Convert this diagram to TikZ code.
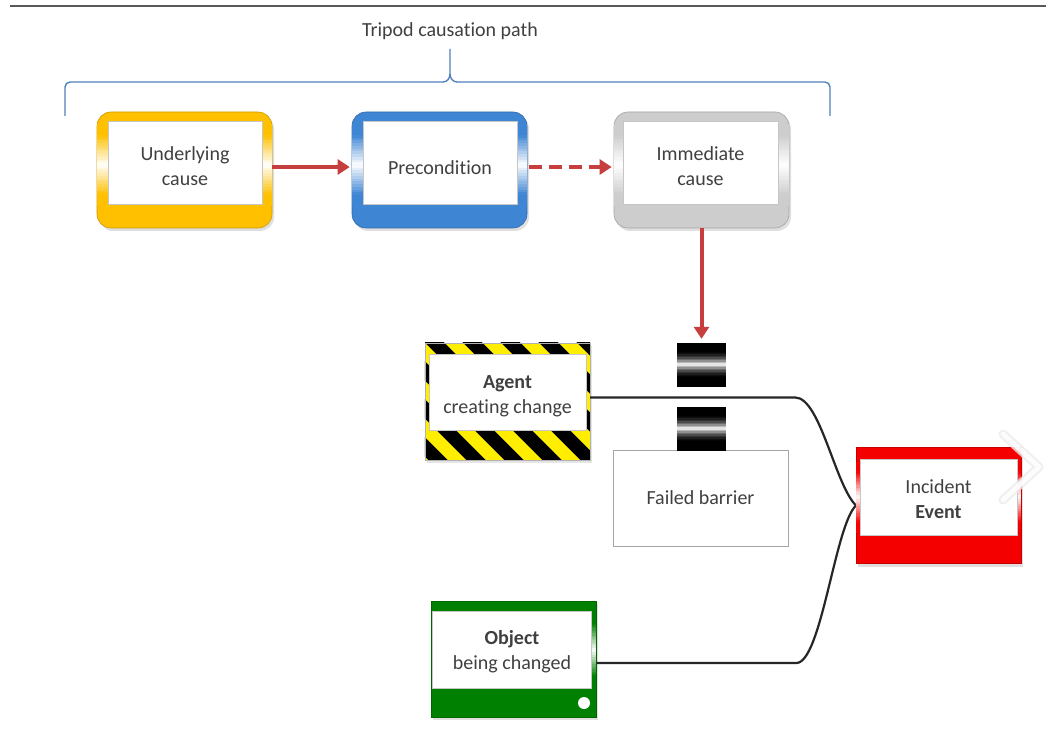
\documentclass[tikz,border=0pt]{standalone}
\usepackage{fontspec}
\setmainfont{Carlito}[Ligatures=NoCommon]
\usetikzlibrary{arrows.meta,shadows}
\definecolor{yel}{RGB}{255,192,0}
\definecolor{blu}{RGB}{62,133,212}
\definecolor{gry}{RGB}{205,205,205}
\definecolor{redb}{RGB}{245,0,0}
\definecolor{grn}{RGB}{0,128,0}
\definecolor{arr}{RGB}{198,62,62}
\definecolor{txt}{RGB}{64,64,64}
\definecolor{brc}{RGB}{79,129,189}
\definecolor{hz}{RGB}{255,238,0}
% side strip fading to white in the middle: x1 x2 ytop ybot colour
\newcommand\sidefade[5]{%
  \foreach \k in {0,...,29}{%
    \pgfmathtruncatemacro\pp{max(0,100-abs(\k-14.5)*100/11)}%
    \pgfmathsetmacro\ya{#3+(#4-#3)*\k/30}%
    \pgfmathsetmacro\yb{#3+(#4-#3)*(\k+1)/30+0.5}%
    \fill[white!\pp!#5] (#1,\ya) rectangle (#2,\yb);}}
% barrier block black-white-black: x1 x2 ytop ybot
\newcommand\barfade[4]{%
  \foreach \k in {0,...,29}{%
    \pgfmathtruncatemacro\pp{100*max(0,1-abs(\k-14.5)/10)^2}%
    \pgfmathsetmacro\ya{#3+(#4-#3)*\k/30}%
    \pgfmathsetmacro\yb{#3+(#4-#3)*(\k+1)/30+0.5}%
    \fill[white!\pp!black] (#1,\ya) rectangle (#2,\yb);}}
\begin{document}
\begin{tikzpicture}[x=1pt,y=-1pt,
  every node/.style={font=\fontsize{20}{25}\selectfont, text=txt, align=center},
  obox/.style={rounded corners=14pt, minimum width=175pt, minimum height=116pt, inner sep=0pt,
     draw=#1!80!black, line width=0.6pt, fill=#1,
     drop shadow={opacity=0.25, shadow xshift=2pt, shadow yshift=-3pt}},
  sbox/.style={minimum width=165pt, minimum height=116pt, inner sep=0pt,
     draw=#1!80!black, line width=0.6pt, fill=#1,
     drop shadow={opacity=0.25, shadow xshift=2pt, shadow yshift=-3pt}},
  ibox/.style={fill=white, draw=gray!45, line width=0.5pt, inner sep=0pt},
  barblk/.style={minimum width=49pt, minimum height=43pt, inner sep=0pt},
  redarrow/.style={draw=arr, line width=4pt, -{Triangle[length=12pt,width=15pt]}},
  conn/.style={line width=2.2pt, draw=black!85},
  bracestyle/.style={draw=brc, line width=1.4pt}
]
\useasboundingbox (0,0) rectangle (1046,743);
\fill[white] (0,0) rectangle (1046,743);
\draw[gray!70!black, line width=1.5pt] (10,6) -- (1046,6);

% title and brace
\node (title) at (450,31) {Tripod causation path};
\draw[bracestyle] (65,116) -- (65,87) to[out=90,in=180] (70,82) -- (443,82)
   to[out=0,in=-90] (450,74) -- (450,49);
\draw[bracestyle] (450,74) to[out=-90,in=180] (457,82) -- (825,82)
   to[out=0,in=90] (830,87) -- (830,116);

% top row
\node[obox=yel] (uc) at (184.5,170) {};
\sidefade{97.3}{108}{124}{206}{yel}\sidefade{262}{271.7}{124}{206}{yel}
\node[ibox, minimum width=154pt, minimum height=83pt] (uct) at (185,162.5) {};
\node (ucx) at ([yshift=-4pt]uct.center) {Underlying\\cause};
\node[obox=blu] (pc) at (439.5,170) {};
\sidefade{352.3}{363}{124}{206}{blu}\sidefade{517}{526.7}{124}{206}{blu}
\node[ibox, minimum width=154pt, minimum height=83pt] (pct) at (440,162.5) {};
\node (pcx) at ([yshift=-5pt]pct.center) {Precondition};
\node[obox=gry] (ic) at (701.5,170) {};
\sidefade{614.3}{623}{124}{206}{gry}\sidefade{778}{788.7}{124}{206}{gry}
\node[ibox, minimum width=155pt, minimum height=83pt] (ict) at (700.5,162.5) {};
\node (icx) at ([yshift=-4pt]ict.center) {Immediate\\cause};

\draw[redarrow, shorten >=2pt] ([yshift=3pt]uc.east) -- ([yshift=3pt]pc.west);
\draw[redarrow, dash pattern=on 13pt off 7pt, shorten <=2pt, shorten >=2pt] ([yshift=3pt]pc.east) -- ([yshift=3pt]ic.west);

% barrier
\node[draw=gray!70, line width=0.8pt, fill=white, minimum width=175pt, minimum height=96pt, inner sep=0pt] (fb) at (700.5,498) {Failed barrier};
\node[barblk] (b1) at (701.5,364.5) {};
\barfade{677}{726}{343}{386}
\node[barblk] (b2) at (701.5,428.5) {};
\barfade{677}{726}{407}{450}
\draw[redarrow, shorten >=4pt] (ic.south) -- (b1.north);

% agent
\node[fill=hz, minimum width=165pt, minimum height=117pt, inner sep=0pt,
      drop shadow={opacity=0.2, shadow xshift=2pt, shadow yshift=-3pt}] (ag) at (507.5,401.5) {};
\begin{scope}
  \clip (ag.north west) rectangle (ag.south east);
  \foreach \i in {-4,...,6} \draw[black, line width=13.5pt] (425+\i*38-10, 323) -- ++(160,160);
\end{scope}
\draw[gray!60, line width=0.6pt] (ag.north west) rectangle (ag.south east);
\node[ibox, minimum width=157pt, minimum height=76pt] (agt) at (507.5,392) {};
\node (agx) at ([yshift=-4pt]agt.center) {\textbf{Agent}\\creating change};

% connectors to incident
\draw[conn] ([yshift=4pt]ag.east) -- ++(205,0) .. controls +(25,0) and (835,485) .. (856,505.5);

% object
\node[sbox=grn] (obj) at (513.5,659) {};
\sidefade{591.5}{595.7}{614}{686}{grn}
\node[ibox, minimum width=159pt, minimum height=77pt] (objt) at (512,649.5) {};
\node (objx) at ([yshift=-2pt]objt.center) {\textbf{Object}\\being changed};
\node[circle, fill=white, minimum size=12pt, inner sep=0pt] (dot) at (584,703) {};
\draw[conn] ([yshift=-4pt]obj.east) -- ++(200,0) .. controls +(25,0) and (835,525) .. (856,505.5);

% incident
\node[sbox=redb] (inc) at (938.5,505.5) {};
\sidefade{856.3}{860.5}{462}{532}{redb}\sidefade{1016.5}{1020.7}{462}{532}{redb}
\node[ibox, minimum width=157pt, minimum height=76pt] (inct) at (938.5,497) {};
\node (incx) at ([yshift=-2pt]inct.center) {Incident\\\textbf{Event}};

% faint chevron
\draw[gray!15, line width=9pt, line cap=round, line join=round, opacity=0.8] (1003,434) -- (1039,467) -- (1003,500);
\draw[white, line width=5pt, line cap=round, line join=round, opacity=0.85] (1003,434) -- (1039,467) -- (1003,500);
\end{tikzpicture}
\end{document}
